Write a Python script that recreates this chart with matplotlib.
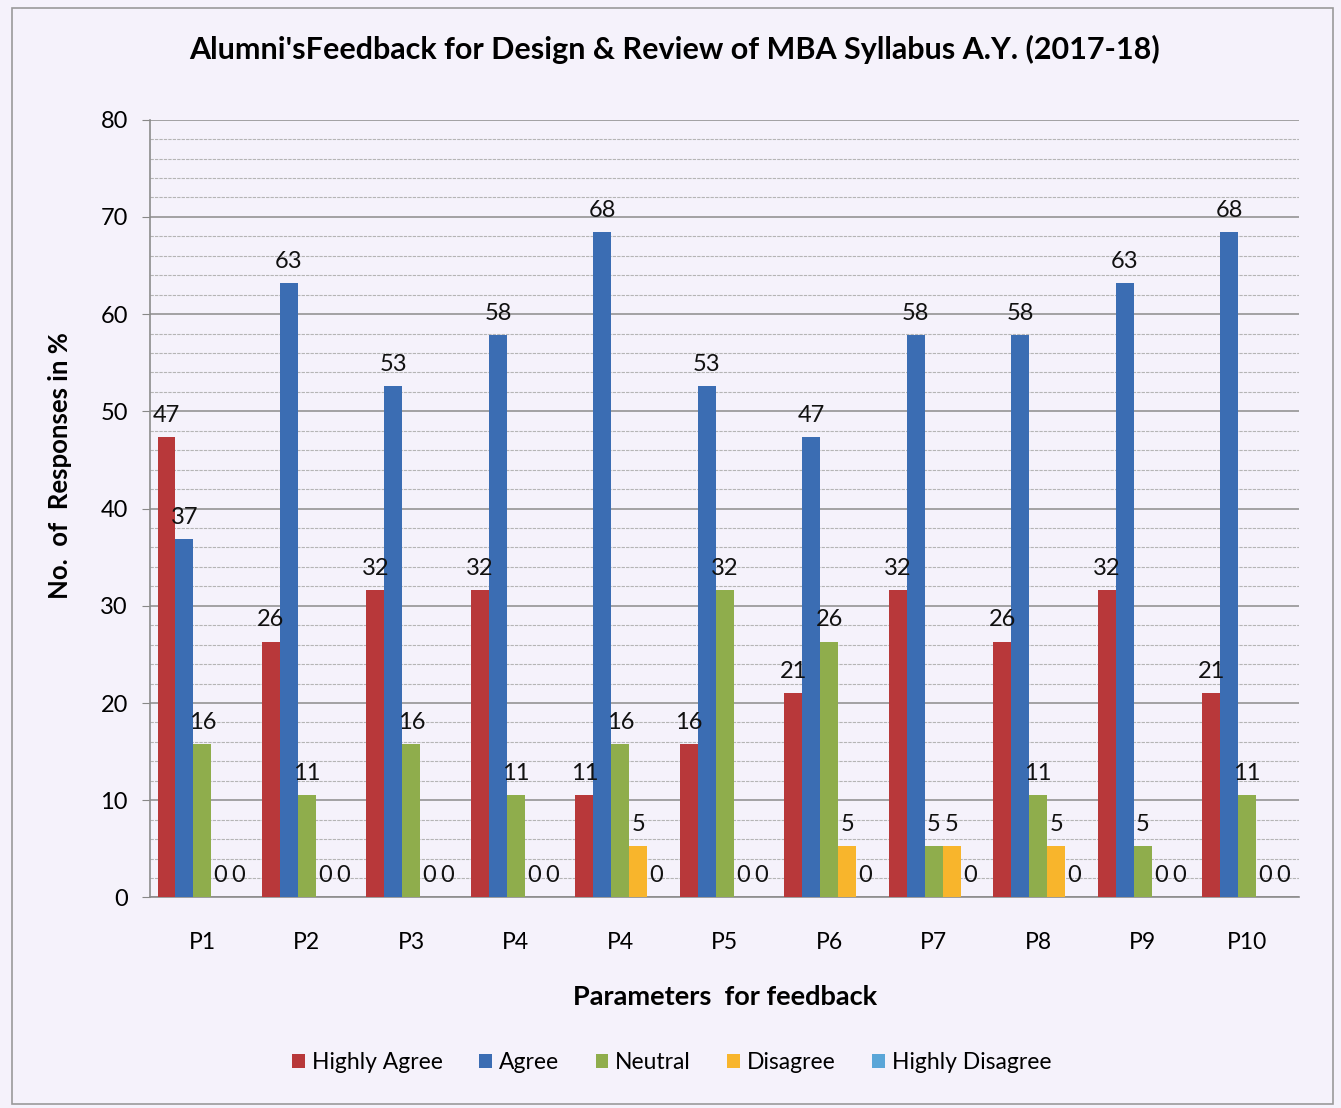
import numpy as np
import matplotlib
matplotlib.use("Agg")
import matplotlib.pyplot as plt
from matplotlib.patches import Rectangle

plt.rcParams['font.family'] = ['Lato', 'DejaVu Sans']

# data (percent of responses)
params = ['P1', 'P2', 'P3', 'P4', 'P4', 'P5', 'P6', 'P7', 'P8', 'P9', 'P10']
highly_agree = [47.37, 26.32, 31.58, 31.58, 10.53, 15.79, 21.05, 31.58, 26.32, 31.58, 21.05]
agree = [36.84, 63.16, 52.63, 57.89, 68.42, 52.63, 47.37, 57.89, 57.89, 63.16, 68.42]
neutral = [15.79, 10.53, 15.79, 10.53, 15.79, 31.58, 26.32, 5.26, 10.53, 5.26, 10.53]
disagree = [0, 0, 0, 0, 5.26, 0, 5.26, 5.26, 5.26, 0, 0]
highly_disagree = [0, 0, 0, 0, 0, 0, 0, 0, 0, 0, 0]

series = [highly_agree, agree, neutral, disagree, highly_disagree]
names = ['Highly Agree', 'Agree', 'Neutral', 'Disagree', 'Highly Disagree']
colors = ['#b8383a', '#3b6db3', '#8fad4c', '#f8b52c', '#5aa6d8']

bg = '#f5f2fb'
fig = plt.figure(figsize=(13.41, 11.08), dpi=100, facecolor=bg)
ax = fig.add_axes([0.112, 0.190, 0.857, 0.702])
ax.set_facecolor(bg)

x = np.arange(len(params))
w = 0.172
for i, (vals, name, col) in enumerate(zip(series, names, colors)):
    pos = x + (i - 2) * w
    ax.bar(pos, vals, width=w, color=col, label=name, zorder=3)
    for p, v in zip(pos, vals):
        ax.annotate('%.0f' % v, (p, v), xytext=(0, 8), textcoords='offset points',
                    ha='center', va='bottom', fontsize=17, color='#111111', zorder=4)

ax.set_xlim(-0.5, len(params) - 0.5)
ax.set_ylim(0, 80)
ax.set_yticks(range(0, 81, 10))
ax.set_yticks(range(0, 81, 2), minor=True)
ax.set_xticks(x)
ax.set_xticklabels(params)
ax.tick_params(axis='y', which='major', length=6, color='#888888', pad=10, labelsize=17)
ax.tick_params(axis='y', which='minor', length=0)
ax.tick_params(axis='x', length=0, pad=25, labelsize=16.5)
ax.grid(axis='y', which='major', color='#8c8c8c', linewidth=1.1, zorder=0)
ax.grid(axis='y', which='minor', color='#b5b5b5', linewidth=0.8, linestyle=(0, (3, 1)), zorder=0)
for s in ['top', 'right']:
    ax.spines[s].set_visible(False)
for s in ['left', 'bottom']:
    ax.spines[s].set_color('#8c8c8c')
    ax.spines[s].set_linewidth(1.2)

ax.set_ylabel('No.  of  Responses in %', fontsize=18.5, fontweight='bold')
ax.yaxis.set_label_coords(-0.068, 0.555)
ax.set_xlabel('Parameters  for feedback', fontsize=19.5, fontweight='bold', labelpad=23)
fig.text(0.503, 0.955, "Alumni'sFeedback for Design & Review of MBA Syllabus A.Y. (2017-18)",
         ha='center', va='center', fontsize=22, fontweight='bold')

ax.legend(loc='center', bbox_to_anchor=(0.501, 0.041), bbox_transform=fig.transFigure,
          ncol=5, frameon=False, fontsize=16.5, handlelength=0.55, handleheight=0.6,
          handletextpad=0.3, columnspacing=1.6)

fig.patches.append(Rectangle((12 / 1341, 4 / 1108), 1321 / 1341, 1096 / 1108,
                             transform=fig.transFigure, fill=False,
                             edgecolor='#9a9a9a', linewidth=1.2))

fig.savefig('out.png', dpi=100, facecolor=bg)
